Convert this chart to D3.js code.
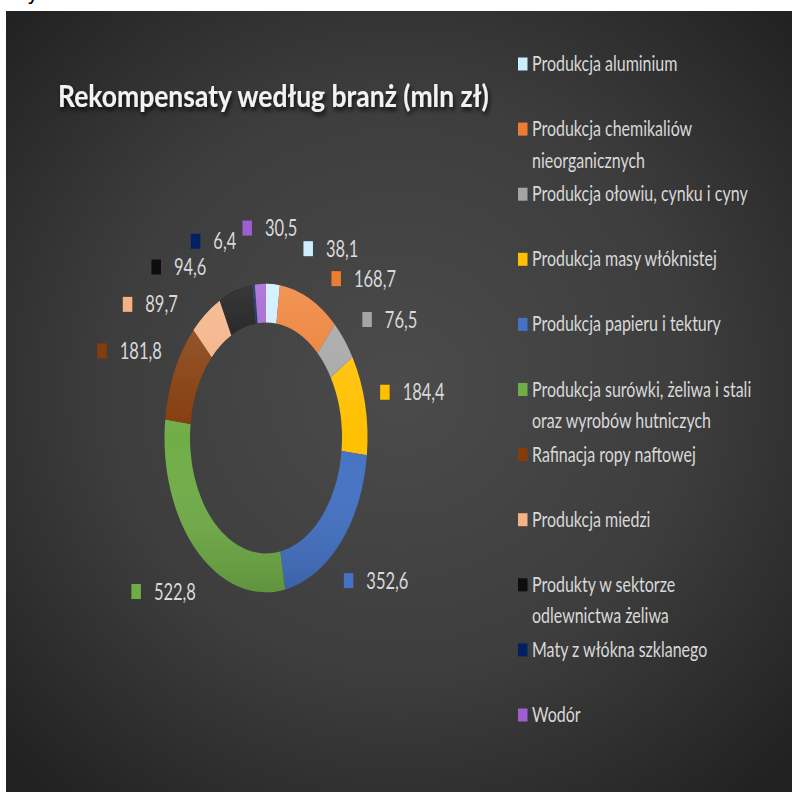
<!DOCTYPE html>
<html>
<head>
<meta charset="utf-8">
<title>Rekompensaty według branż</title>
<script src="https://cdn.jsdelivr.net/npm/d3@7"></script>
<style>
  html, body { margin: 0; padding: 0; background: #fff; }
  svg { display: block; }
  text { font-family: Lato, "Open Sans", sans-serif; }
</style>
</head>
<body>
<div id="chart"></div>
<script>
// dane z wykresu
var categories = [
  'Produkcja aluminium',
  'Produkcja chemikaliów nieorganicznych',
  'Produkcja ołowiu, cynku i cyny',
  'Produkcja masy włóknistej',
  'Produkcja papieru i tektury',
  'Produkcja surówki, żeliwa i stali oraz wyrobów hutniczych',
  'Rafinacja ropy naftowej',
  'Produkcja miedzi',
  'Produkty w sektorze odlewnictwa żeliwa',
  'Maty z włókna szklanego',
  'Wodór'
];
var values = [38.1, 168.7, 76.5, 184.4, 352.6, 522.8, 181.8, 89.7, 94.6, 6.4, 30.5];
var colors = ['#cdeeff', '#ed7d31', '#a5a5a5', '#ffc000', '#4472c4', '#70ad47',
              '#843c0c', '#f4b183', '#0d0d0d', '#002060', '#9e5ed0'];
var title = 'Rekompensaty według branż (mln zł)';

var W = 792, H = 793;
var cx = 266, cy = 438, sy = 1.52;     // wykres jest rozciągnięty w pionie
var rOuter = 101.5, rInner = 76;
var labelRx = 150, labelRy = 210, minSep = 15;

var svg = d3.select('#chart').append('svg')
  .attr('width', W).attr('height', H);
var defs = svg.append('defs');

var bg = defs.append('radialGradient').attr('id', 'bg')
  .attr('cx', '50%').attr('cy', '48%').attr('r', '68%');
bg.append('stop').attr('offset', '0%').attr('stop-color', '#4b4b4b');
bg.append('stop').attr('offset', '55%').attr('stop-color', '#3d3d3d');
bg.append('stop').attr('offset', '100%').attr('stop-color', '#222');

var shine = defs.append('linearGradient').attr('id', 'shine')
  .attr('x1', 0).attr('y1', 0).attr('x2', 0).attr('y2', 1);
shine.append('stop').attr('offset', '0%').attr('stop-color', '#fff').attr('stop-opacity', 0.18);
shine.append('stop').attr('offset', '50%').attr('stop-color', '#fff').attr('stop-opacity', 0);
shine.append('stop').attr('offset', '100%').attr('stop-color', '#000').attr('stop-opacity', 0.15);

var shadow = defs.append('filter').attr('id', 'tshadow')
  .attr('x', '-10%').attr('y', '-30%').attr('width', '120%').attr('height', '180%');
shadow.append('feDropShadow').attr('dx', 1.5).attr('dy', 3).attr('stdDeviation', 2)
  .attr('flood-color', '#000').attr('flood-opacity', 0.75);

// resztka tekstu nad wykresem
svg.append('text').attr('x', 27).attr('y', 0)
  .style('font-family', 'DejaVu Sans').style('font-size', '20px')
  .attr('fill', '#000').text('y');

svg.append('rect').attr('x', 6).attr('y', 11)
  .attr('width', W - 6).attr('height', H - 12)
  .attr('fill', 'url(#bg)');

function put(sel, x, y, kx, ky) {
  return sel.attr('transform', 'translate(' + x + ',' + y + ') scale(' + kx + ',' + ky + ')');
}

// tytuł
put(svg.append('text'), 58, 107, 1, 1.18)
  .style('font-size', '26.5px').style('font-weight', 700)
  .attr('fill', '#f2f2f2').attr('filter', 'url(#tshadow)')
  .text(title);

// pierścień
var pie = d3.pie().sort(null).value(function(d){ return d; });
var arcs = pie(values);
var arc = d3.arc().innerRadius(rInner).outerRadius(rOuter);

var ring = svg.append('g')
  .attr('transform', 'translate(' + cx + ',' + cy + ') scale(1,' + sy + ')');
ring.selectAll('path.slice')
  .data(arcs)
  .enter().append('path')
  .attr('class', 'slice')
  .attr('d', arc)
  .attr('fill', function(d, i){ return colors[i]; });
ring.append('path')
  .attr('d', d3.arc().innerRadius(rInner).outerRadius(rOuter)({startAngle: 0, endAngle: 2 * Math.PI}))
  .attr('fill', 'url(#shine)');

// etykiety danych: kąt środka wycinka, rozsunięte gdy za blisko
var deg = 180 / Math.PI;
var fmt = function(v){ return String(v).replace('.', ','); };
var labels = svg.append('g');
var boxH = 18, pad = 6;

var lab = arcs.map(function(d, i){
  var txt = labels.append('text').style('font-size', '16.5px')
    .attr('fill', '#d9d9d9').text(fmt(values[i]));
  var tw = txt.node().getComputedTextLength();
  return { i: i, a: (d.startAngle + d.endAngle) / 2 * deg, txt: txt, w: 9.5 + 13 + tw };
});
lab.sort(function(p, q){ return p.a - q.a; });
// rozwiń tak, żeby największa przerwa była na końcu
var gapMax = -1, cut = 0;
lab.forEach(function(p, k){
  var nx = lab[(k + 1) % lab.length];
  var g = (nx.a - p.a + 360) % 360;
  if (g > gapMax) { gapMax = g; cut = (k + 1) % lab.length; }
});
lab = lab.slice(cut).concat(lab.slice(0, cut));
for (var k = 1; k < lab.length; k++) {
  while (lab[k].a < lab[k - 1].a) lab[k].a += 360;
}
function pos(p) {
  var t = p.a / deg;
  return [cx + labelRx * Math.sin(t), cy - labelRy * Math.cos(t)];
}
function overlap(p, q) {
  var a = pos(p), b = pos(q);
  return Math.abs(a[0] - b[0]) < (p.w + q.w) / 2 + pad &&
         Math.abs(a[1] - b[1]) < boxH + pad;
}
for (var it = 0; it < 800; it++) {
  for (var k = 0; k < lab.length - 1; k++) {
    var gap = lab[k + 1].a - lab[k].a;
    var push = 0;
    if (gap < minSep) push = (minSep - gap) / 2;
    if (overlap(lab[k], lab[k + 1])) push = Math.max(push, 0.2);
    lab[k].a -= push;
    lab[k + 1].a += push;
  }
}

lab.forEach(function(p){
  var c = pos(p);
  var left = c[0] - p.w / 2;
  var base = c[1] + 8;
  labels.append('rect')
    .attr('x', left).attr('y', base - 15.5)
    .attr('width', 9.5).attr('height', 15)
    .attr('fill', colors[p.i]);
  put(p.txt, left + 22.5, base, 1, 1.36);
});

// legenda
var legX = 518, legY = 71, legStep = 65.1, lineH = 31.5, maxW = 232;
var legend = svg.append('g');
categories.forEach(function(name, i){
  var base = legY + legStep * i;
  legend.append('rect')
    .attr('x', legX).attr('y', base - 13.5)
    .attr('width', 9.5).attr('height', 13)
    .attr('fill', colors[i]);
  var words = name.split(' ');
  var line = '', ln = 0;
  var probe = legend.append('text').style('font-size', '16px');
  function flush(s) {
    put(legend.append('text'), legX + 14, base + ln * lineH, 1, 1.27)
      .style('font-size', '16px').attr('fill', '#d9d9d9').text(s);
    ln++;
  }
  words.forEach(function(w){
    var test = line ? line + ' ' + w : w;
    probe.text(test);
    if (line && probe.node().getComputedTextLength() > maxW) {
      flush(line);
      line = w;
    } else {
      line = test;
    }
  });
  flush(line);
  probe.remove();
});
</script>
</body>
</html>
